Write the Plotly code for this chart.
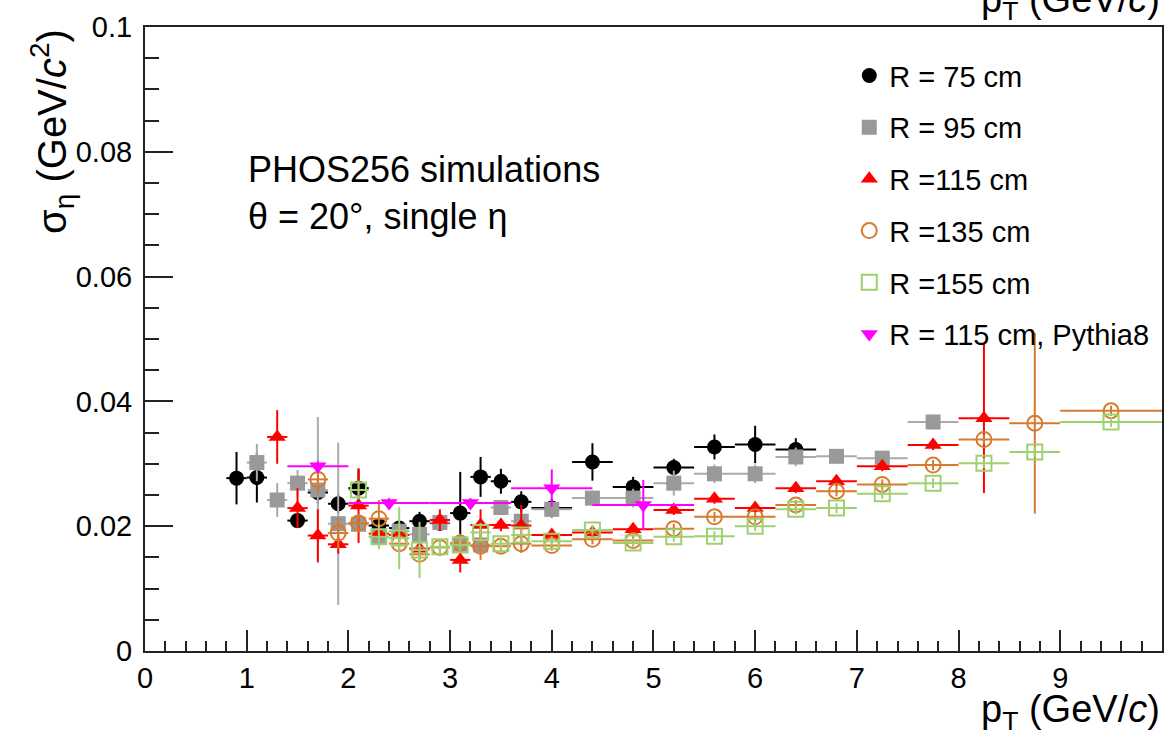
import plotly.graph_objects as go

# ---------------- data ----------------
pt_75 = [0.9, 1.1, 1.5, 1.7, 1.9, 2.1, 2.3, 2.5, 2.7, 2.9, 3.1, 3.3, 3.5, 3.7, 4.0, 4.4, 4.8, 5.2, 5.6, 6.0, 6.4]
dpt_75 = [0.1]*14 + [0.2]*7
sig_75 = [0.0277, 0.0278, 0.0209, 0.0254, 0.0236, 0.0261, 0.0201, 0.0197, 0.0208, 0.0205, 0.0221, 0.0279,
          0.0272, 0.0239, 0.0229, 0.0303, 0.0263, 0.0294, 0.0327, 0.0331, 0.0323]
err_75 = [0.0042, 0.0040, 0.0012, 0.0018, 0.0015, 0.0030, 0.0010, 0.0010, 0.0015, 0.0012, 0.0066, 0.0032,
          0.0020, 0.0017, 0.0015, 0.0030, 0.0016, 0.0014, 0.0020, 0.0030, 0.0018]

pt_95 = [1.1, 1.3, 1.5, 1.7, 1.9, 2.1, 2.3, 2.5, 2.7, 2.9, 3.1, 3.3, 3.5, 3.7, 4.0, 4.4, 4.8, 5.2, 5.6, 6.0, 6.4, 6.8, 7.25, 7.75]
dpt_95 = [0.1]*14 + [0.2]*8 + [0.25]*2
sig_95 = [0.0302, 0.0242, 0.0269, 0.0258, 0.0204, 0.0203, 0.0183, 0.0192, 0.0187, 0.0206, 0.0171, 0.0170,
          0.0230, 0.0208, 0.0227, 0.0245, 0.0245, 0.0269, 0.0284, 0.0284, 0.0311, 0.0312, 0.0309, 0.0367]
err_95 = [0.0030, 0.0027, 0.0021, 0.0117, 0.0130, 0.0012, 0.0010, 0.0010, 0.0010, 0.0010, 0.0010, 0.0010,
          0.0012, 0.0012, 0.0012, 0.0012, 0.0015, 0.0020, 0.0015, 0.0015, 0.0015, 0.0010, 0.0010, 0.0012]

pt_115 = [1.3, 1.5, 1.7, 1.9, 2.1, 2.3, 2.5, 2.7, 2.9, 3.1, 3.3, 3.5, 3.7, 4.0, 4.4, 4.8, 5.2, 5.6, 6.0, 6.4, 6.8, 7.25, 7.75, 8.25]
dpt_115 = [0.1]*13 + [0.2]*8 + [0.25]*3
sig_115 = [0.0343, 0.0229, 0.0185, 0.0171, 0.0233, 0.0188, 0.0186, 0.0164, 0.0210, 0.0146, 0.0202, 0.0202,
           0.0201, 0.0186, 0.0190, 0.0195, 0.0226, 0.0244, 0.0229, 0.0261, 0.0272, 0.0296, 0.0330, 0.0373]
err_115 = [0.0043, 0.0032, 0.0042, 0.0015, 0.0060, 0.0010, 0.0010, 0.0012, 0.0017, 0.0020, 0.0025, 0.0010,
           0.0033, 0.0008, 0.0008, 0.0008, 0.0008, 0.0008, 0.0008, 0.0008, 0.0008, 0.0008, 0.0008, 0.0120]

pt_135 = [1.7, 1.9, 2.1, 2.3, 2.5, 2.7, 2.9, 3.1, 3.3, 3.5, 3.7, 4.0, 4.4, 4.8, 5.2, 5.6, 6.0, 6.4, 6.8, 7.25, 7.75, 8.25, 8.75, 9.5]
dpt_135 = [0.1]*11 + [0.2]*8 + [0.25]*4 + [0.5]
sig_135 = [0.0275, 0.0189, 0.0205, 0.0212, 0.0172, 0.0155, 0.0166, 0.0173, 0.0168, 0.0168, 0.0172, 0.0169,
           0.0179, 0.0177, 0.0196, 0.0215, 0.0215, 0.0234, 0.0256, 0.0267, 0.0298, 0.0339, 0.0365, 0.0385]
err_135 = [0.0023, 0.0025, 0.0015, 0.0030, 0.0010, 0.0012, 0.0010, 0.0015, 0.0022, 0.0010, 0.0015, 0.0008,
           0.0008, 0.0008, 0.0008, 0.0008, 0.0008, 0.0008, 0.0008, 0.0008, 0.0008, 0.0008, 0.0145, 0.0008]

pt_155 = [2.1, 2.3, 2.5, 2.7, 2.9, 3.1, 3.3, 3.5, 3.7, 4.0, 4.4, 4.8, 5.2, 5.6, 6.0, 6.4, 6.8, 7.25, 7.75, 8.25, 8.75, 9.5]
dpt_155 = [0.1]*9 + [0.2]*8 + [0.25]*4 + [0.5]
sig_155 = [0.0258, 0.0183, 0.0181, 0.0162, 0.0167, 0.0170, 0.0190, 0.0172, 0.0186, 0.0176, 0.0194, 0.0173,
           0.0183, 0.0184, 0.0200, 0.0227, 0.0229, 0.0252, 0.0269, 0.0301, 0.0319, 0.0367]
err_155 = [0.0015, 0.0020, 0.0050, 0.0045, 0.0010, 0.0010, 0.0015, 0.0010, 0.0010, 0.0008, 0.0008, 0.0008,
           0.0008, 0.0008, 0.0008, 0.0008, 0.0008, 0.0008, 0.0008, 0.0008, 0.0008, 0.0008]

pt_py8 = [1.7, 2.4, 3.2, 4.0, 4.9]
dpt_py8 = [0.3, 0.4, 0.4, 0.4, 0.5]
sig_py8 = [0.0296, 0.0237, 0.0237, 0.0261, 0.0234]
err_py8 = [0.0008, 0.0008, 0.0008, 0.0030, 0.0040]

series = [
    ("R = 75 cm", pt_75, dpt_75, sig_75, err_75, "circle", "#000000", "#000000"),
    ("R = 95 cm", pt_95, dpt_95, sig_95, err_95, "square", "#999999", "#aaaaaa"),
    ("R =115 cm", pt_115, dpt_115, sig_115, err_115, "triangle-up", "#ff0000", "#ff0000"),
    ("R =135 cm", pt_135, dpt_135, sig_135, err_135, "circle-open", "#d77a2c", "#d77a2c"),
    ("R =155 cm", pt_155, dpt_155, sig_155, err_155, "square-open", "#9fd070", "#9fd070"),
    ("R = 115 cm, Pythia8", pt_py8, dpt_py8, sig_py8, err_py8, "triangle-down", "#ff00ff", "#ff00ff"),
]

FONT = "Liberation Sans, Arial, Helvetica, sans-serif"

fig = go.Figure()
for i, (name, x, dx, y, dy, sym, col, ecol) in enumerate(series):
    open_sym = sym.endswith("-open")
    fig.add_trace(go.Scatter(
        x=x, y=y, mode="markers", name=name, legendgroup=f"g{i}",
        marker=dict(symbol=sym, size=15, color=col,
                    line=dict(width=2 if open_sym else 0, color=col)),
        error_x=dict(type="data", array=dx, visible=True, thickness=2, width=0, color=ecol),
        error_y=dict(type="data", array=dy, visible=True, thickness=2, width=0, color=ecol),
    ))

axis_common = dict(
    showline=True, linecolor="#222222", linewidth=2, mirror=True,
    ticks="inside", tickcolor="#222222", tickwidth=1.5,
    showgrid=False, zeroline=False, automargin=False,
    tickfont=dict(family=FONT, size=29, color="#000000"),
)

fig.update_xaxes(range=[0, 10.001], dtick=1, tick0=0, ticklen=21,
                 minor=dict(dtick=0.2, ticks="inside", ticklen=10, tickcolor="#222222", tickwidth=1.5),
                 **axis_common)
fig.update_yaxes(range=[0, 0.1], dtick=0.02, tick0=0, ticklen=28, ticklabelstandoff=5,
                 minor=dict(dtick=0.005, ticks="inside", ticklen=14, tickcolor="#222222", tickwidth=1.5),
                 **axis_common)

annotations = [
    dict(text="PHOS256 simulations", xref="paper", yref="paper", x=0.0992, y=0.771,
         xanchor="left", yanchor="middle", showarrow=False, font=dict(family=FONT, size=36, color="#000")),
    dict(text="θ = 20°, single η", xref="paper", yref="paper", x=0.0992, y=0.696,
         xanchor="left", yanchor="middle", showarrow=False, font=dict(family=FONT, size=36, color="#000")),
    dict(text="p<sub>T</sub> (GeV/<i>c</i>)", xref="paper", yref="paper", x=1.0, y=-0.098,
         xanchor="right", yanchor="middle", showarrow=False, font=dict(family=FONT, size=38, color="#000")),
    dict(text="p<sub>T</sub> (GeV/<i>c</i>)", xref="paper", yref="paper", x=1.0, y=1.040,
         xanchor="right", yanchor="middle", showarrow=False, font=dict(family=FONT, size=38, color="#000")),
    dict(text="σ<sub>η</sub> (GeV/<i>c</i><sup>2</sup>)", xref="paper", yref="paper", x=-0.092, y=1.0,
         xanchor="center", yanchor="top", textangle=-90, showarrow=False,
         font=dict(family=FONT, size=40, color="#000")),
]

fig.update_layout(
    width=1164, height=732,
    margin=dict(l=145, r=2, t=27, b=81, pad=0, autoexpand=False),
    paper_bgcolor="white", plot_bgcolor="white",
    annotations=annotations,
    showlegend=True,
    legend=dict(x=0.6925, y=0.963, xanchor="left", yanchor="top",
                bgcolor="rgba(0,0,0,0)", borderwidth=0,
                font=dict(family=FONT, size=29, color="#000"),
                tracegroupgap=11, itemsizing="trace"),
)

# remove the default page margin so the figure fills the window exactly; hide the modebar
fig.write_html("out.html",
               config={"displayModeBar": False},
               post_script="document.body.style.margin='0';document.body.style.overflow='hidden';")
